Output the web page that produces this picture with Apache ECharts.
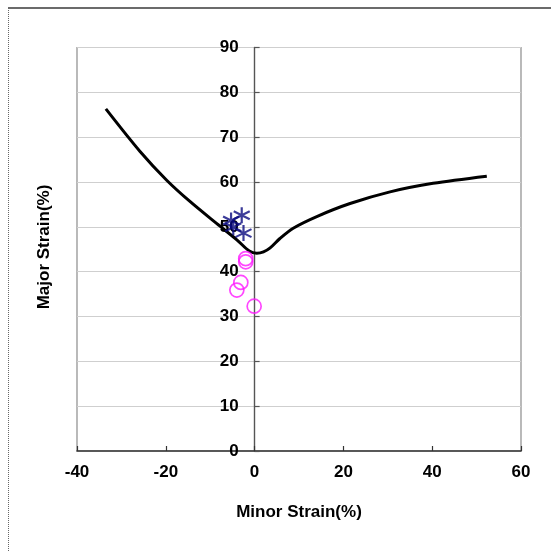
<!DOCTYPE html>
<html>
<head>
<meta charset="utf-8">
<script src="https://cdn.jsdelivr.net/npm/echarts@6/dist/echarts.min.js"></script>
<style>
  html, body { margin: 0; padding: 0; background: #fff; }
  #chart { width: 551px; height: 552px; }
</style>
</head>
<body>
<div id="chart"></div>
<script>
// Forming limit curve: [minor strain %, major strain %]
const flcCurve = [
  [-33.5, 76.3], [-25.8, 66.8], [-19.8, 60.4], [-14.5, 55.6], [-8.5, 50.7],
  [-4.0, 47.1], [-1.2, 44.6], [0.5, 44.1], [2.0, 44.4], [3.5, 45.3],
  [5.7, 47.4], [8.7, 49.7], [14.0, 52.3], [21.5, 55.2], [30.5, 57.8],
  [40.2, 59.7], [52.3, 61.3]
];

// Measured points, first group (asterisks)
const groupA = [[-5.3, 51.4], [-4.8, 49.9], [-2.9, 52.6], [-2.5, 48.6]];

// Measured points, second group (open circles)
const groupB = [[-2.0, 42.9], [-2.0, 42.2], [-3.1, 37.6], [-4.0, 35.9], [-0.1, 32.3]];

const xTicks = { min: -40, max: 60, step: 20 };
const yTicks = { min: 0, max: 90, step: 10 };

const labelFont = { fontFamily: 'Liberation Sans, Arial, sans-serif', fontWeight: 'bold', fontSize: 17, color: '#000' };

// plot box geometry (px)
const plotLeft = 77, plotRight = 30, plotWidth = 551 - plotLeft - plotRight;
// shift the vertical axis so it sits on minor strain = 0
const yAxisShift = -plotWidth * (0 - xTicks.min) / (xTicks.max - xTicks.min);

const chart = echarts.init(document.getElementById('chart'));
chart.setOption({
  animation: false,
  backgroundColor: '#fff',
  grid: {
    left: plotLeft, top: 47.5, right: plotRight, bottom: 101,
    show: true, borderColor: '#8c8c8c', borderWidth: 1.2
  },
  xAxis: {
    type: 'value',
    min: xTicks.min, max: xTicks.max, interval: xTicks.step,
    name: 'Minor Strain(%)',
    nameLocation: 'middle',
    nameGap: 53,
    nameTextStyle: labelFont,
    axisLine: { onZero: false, lineStyle: { color: '#333', width: 1.5 } },
    axisTick: { inside: true, length: 5, lineStyle: { color: '#333', width: 1.2 } },
    axisLabel: Object.assign({ margin: 13 }, labelFont),
    splitLine: { show: false }
  },
  yAxis: {
    type: 'value',
    min: yTicks.min, max: yTicks.max, interval: yTicks.step,
    offset: yAxisShift,
    axisLine: { onZero: false, lineStyle: { color: '#555', width: 1.4 } },
    axisTick: { inside: true, length: 5, lineStyle: { color: '#555', width: 1.2 } },
    axisLabel: Object.assign({ margin: 16 }, labelFont),
    splitLine: { show: true, lineStyle: { color: '#cfcfcf', width: 1 } }
  },
  graphic: [
    { type: 'line', shape: { x1: 8, y1: 8, x2: 551, y2: 8 }, style: { stroke: '#3a3a3a', lineWidth: 1.5 } },
    { type: 'line', shape: { x1: 8.5, y1: 8, x2: 8.5, y2: 552 }, style: { stroke: '#666', lineWidth: 1, lineDash: [1, 1] } },
    {
      type: 'text', x: 44, y: 247, rotation: Math.PI / 2,
      style: {
        text: 'Major Strain(%)', align: 'center', verticalAlign: 'middle',
        font: 'bold 17px Liberation Sans, Arial, sans-serif', fill: '#000'
      }
    }
  ],
  series: [
    {
      type: 'line',
      data: flcCurve,
      smooth: 0.3,
      showSymbol: false,
      lineStyle: { color: '#000', width: 3 },
      z: 3
    },
    {
      type: 'scatter',
      data: groupA,
      symbol: 'path://M0,-1L0,1M-0.866,-0.5L0.866,0.5M-0.866,0.5L0.866,-0.5',
      symbolSize: 16,
      itemStyle: { color: 'none', borderColor: '#0a0a80', borderWidth: 2.2 },
      z: 4
    },
    {
      type: 'scatter',
      data: groupB,
      symbol: 'circle',
      symbolSize: 14,
      itemStyle: { color: 'rgba(0,0,0,0)', borderColor: '#ff19ff', borderWidth: 1.7 },
      z: 4
    }
  ]
});
</script>
</body>
</html>
